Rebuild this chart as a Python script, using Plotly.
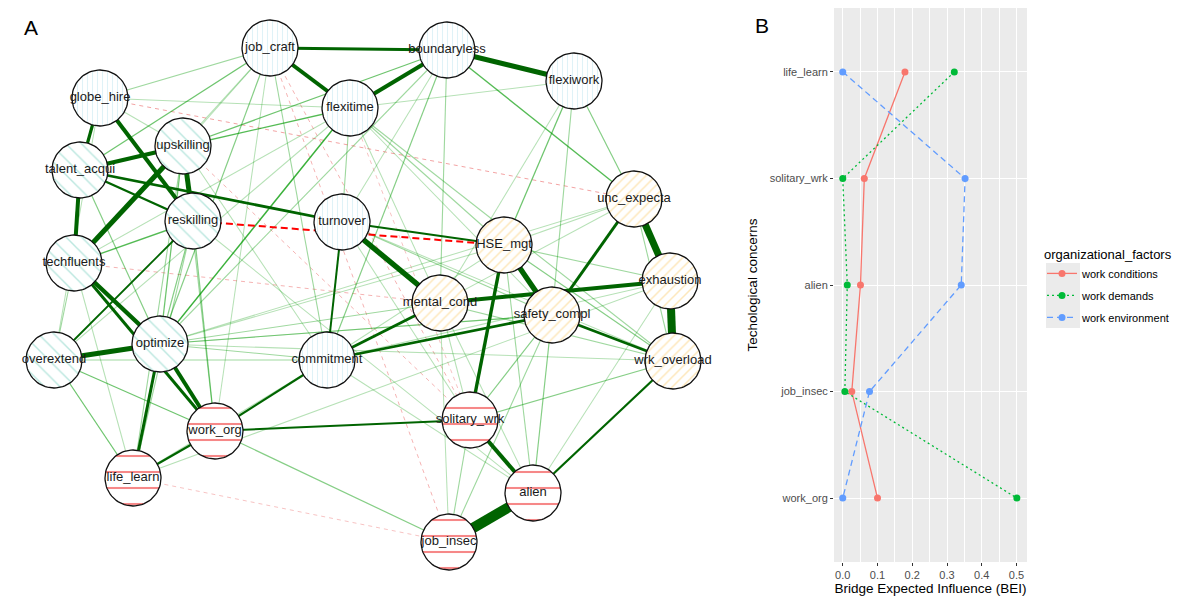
import numpy as np
import plotly.graph_objects as go

# ---------------- Panel A : network data ----------------
node_names = ["job_craft", "boundaryless", "flexiwork", "globe_hire", "flexitime",
              "upskilling", "talent_acqui", "reskilling", "turnover", "unc_expecta",
              "HSE_mgt", "techfluents", "exhaustion", "mental_cond", "safety_compl",
              "optimize", "overextend", "commitment", "wrk_overload", "work_org",
              "solitary_wrk", "life_learn", "alien", "job_insec"]
node_x = [270, 447, 574, 100, 350, 183, 80, 193, 342, 634, 504, 74, 670, 440, 552,
          160, 54, 327, 673, 215, 470, 133, 533, 449]
node_y = [48, 50, 81, 98, 108, 146, 170, 221, 222, 199, 245, 263, 281, 303, 315,
          344, 360, 360, 361, 431, 420, 478, 493, 542]
node_group = ["env", "env", "env", "env", "env", "skill", "skill", "skill", "env", "demand",
              "demand", "skill", "demand", "demand", "demand", "skill", "skill", "env",
              "demand", "tech", "tech", "tech", "tech", "tech"]

edge_from = ["job_craft", "job_craft", "boundaryless", "boundaryless", "globe_hire",
             "globe_hire", "talent_acqui", "talent_acqui", "upskilling", "upskilling",
             "talent_acqui", "talent_acqui", "reskilling", "turnover", "turnover",
             "HSE_mgt", "HSE_mgt", "unc_expecta", "exhaustion", "exhaustion",
             "unc_expecta", "commitment", "commitment", "safety_compl", "wrk_overload",
             "solitary_wrk", "alien", "work_org", "work_org", "optimize",
             "techfluents", "techfluents", "overextend", "optimize", "life_learn",
             "turnover", "techfluents", "overextend", "optimize",
             "job_craft", "job_craft", "job_craft", "upskilling", "upskilling",
             "boundaryless", "flexiwork", "flexiwork", "flexiwork", "flexiwork",
             "flexiwork", "boundaryless", "boundaryless", "boundaryless", "boundaryless",
             "job_craft", "job_craft", "job_craft", "job_craft", "flexitime",
             "flexitime", "flexitime", "flexitime", "flexitime", "flexitime",
             "flexitime", "globe_hire", "globe_hire", "globe_hire", "upskilling",
             "upskilling", "upskilling", "upskilling", "reskilling", "reskilling",
             "reskilling", "reskilling", "talent_acqui", "techfluents", "techfluents",
             "turnover", "turnover", "turnover", "mental_cond", "mental_cond",
             "mental_cond", "HSE_mgt", "HSE_mgt", "HSE_mgt", "HSE_mgt",
             "unc_expecta", "unc_expecta", "unc_expecta", "unc_expecta", "safety_compl",
             "safety_compl", "safety_compl", "safety_compl", "exhaustion", "exhaustion",
             "solitary_wrk", "solitary_wrk", "work_org", "overextend", "overextend",
             "overextend", "optimize", "optimize", "optimize", "optimize",
             "commitment", "commitment", "mental_cond", "HSE_mgt", "life_learn",
             "globe_hire", "techfluents", "life_learn", "job_craft", "upskilling",
             "job_craft", "flexitime"]
edge_to = ["boundaryless", "flexitime", "flexitime", "flexiwork", "reskilling",
           "talent_acqui", "upskilling", "techfluents", "reskilling", "techfluents",
           "reskilling", "turnover", "HSE_mgt", "HSE_mgt", "mental_cond",
           "safety_compl", "solitary_wrk", "exhaustion", "wrk_overload", "mental_cond",
           "safety_compl", "mental_cond", "safety_compl", "wrk_overload", "alien",
           "alien", "job_insec", "solitary_wrk", "commitment", "work_org",
           "optimize", "work_org", "optimize", "life_learn", "work_org",
           "commitment", "reskilling", "reskilling", "flexitime",
           "talent_acqui", "globe_hire", "upskilling", "flexitime", "boundaryless",
           "unc_expecta", "unc_expecta", "HSE_mgt", "safety_compl", "mental_cond",
           "flexitime", "mental_cond", "commitment", "optimize", "turnover",
           "commitment", "optimize", "work_org", "techfluents", "HSE_mgt",
           "safety_compl", "wrk_overload", "techfluents", "overextend", "mental_cond",
           "turnover", "flexitime", "upskilling", "overextend", "optimize",
           "work_org", "life_learn", "commitment", "optimize", "life_learn",
           "work_org", "alien", "optimize", "overextend", "life_learn",
           "safety_compl", "solitary_wrk", "wrk_overload", "solitary_wrk", "alien",
           "wrk_overload", "wrk_overload", "exhaustion", "commitment", "optimize",
           "wrk_overload", "mental_cond", "HSE_mgt", "optimize", "alien",
           "solitary_wrk", "job_insec", "optimize", "alien", "commitment",
           "wrk_overload", "job_insec", "job_insec", "work_org", "life_learn",
           "commitment", "commitment", "mental_cond", "safety_compl", "wrk_overload",
           "alien", "life_learn", "job_insec", "alien", "exhaustion",
           "unc_expecta", "mental_cond", "job_insec", "solitary_wrk", "solitary_wrk",
           "job_insec", "solitary_wrk"]
edge_weight = [0.14, 0.20, 0.20, 0.25, 0.20,
               0.16, 0.20, 0.20, 0.25, 0.25,
               0.12, 0.14, -0.10, 0.09, 0.27,
               0.27, 0.17, 0.35, 0.40, 0.20,
               0.15, 0.14, 0.14, 0.13, 0.11,
               0.20, 0.52, 0.10, 0.11, 0.20,
               0.22, 0.15, 0.25, 0.15, 0.11,
               0.10, 0.07, 0.09, 0.08,
               0.06, 0.04, 0.03, 0.07, 0.06,
               0.07, 0.05, 0.06, 0.04, 0.03,
               0.03, 0.04, 0.05, 0.04, 0.03,
               0.04, 0.05, 0.03, 0.03, 0.04,
               0.03, 0.04, 0.03, 0.03, 0.03,
               0.04, 0.03, 0.03, 0.03, 0.06,
               0.04, 0.04, 0.03, 0.05, 0.04,
               0.05, 0.03, 0.05, 0.04, 0.03,
               0.04, 0.03, 0.03, 0.03, 0.03,
               0.04, 0.05, 0.04, 0.03, 0.03,
               0.04, 0.03, 0.03, 0.03, 0.05,
               0.05, 0.04, 0.04, 0.03, 0.03,
               0.05, 0.04, 0.05, 0.06, 0.06,
               0.04, 0.04, 0.04, 0.03, 0.03,
               0.03, 0.03, 0.03, 0.04, 0.03,
               -0.04, -0.03, -0.02, -0.03, -0.03,
               -0.03, -0.02]

# ---------------- Panel B : bridge expected influence ----------------
concerns = ["life_learn", "solitary_wrk", "alien", "job_insec", "work_org"]
bei_conditions = [0.179, 0.062, 0.051, 0.026, 0.100]
bei_demands = [0.321, 0.000, 0.013, 0.006, 0.501]
bei_environment = [0.000, 0.352, 0.341, 0.077, 0.000]
factor_names = ["work conditions", "work demands", "work environment"]

W, H = 1200, 610
FONT = "Liberation Sans, Arial, Helvetica, sans-serif"
fig = go.Figure()

# ---- edges ----
pos = {n: (x, y) for n, x, y in zip(node_names, node_x, node_y)}
order = np.argsort(np.abs(edge_weight))
for i in order:
    a, b, w = edge_from[i], edge_to[i], edge_weight[i]
    aw = abs(w)
    if w >= 0:
        if aw >= 0.09:
            color, width = "rgb(0,100,0)", 20 * aw
        else:
            alpha = 0.08 + 0.8 * (aw / 0.09) ** 1.2
            color, width = f"rgba(0,153,0,{alpha:.2f})", 0.8 + aw * 8
        dash = "solid"
    else:
        if aw >= 0.08:
            color, width, dash = "rgb(255,0,0)", 2.0, "7px,4px"
        else:
            color, width, dash = f"rgba(230,60,60,{0.15 + aw * 8:.2f})", 1.0, "4px,4px"
    fig.add_trace(go.Scatter(x=[pos[a][0], pos[b][0]], y=[pos[a][1], pos[b][1]],
                             mode="lines", line=dict(color=color, width=width, dash=dash),
                             hoverinfo="skip", showlegend=False, xaxis="x", yaxis="y"))

# ---- nodes ----
patterns = {
    "env": dict(shape="|", fgcolor="#bfe6f0", bgcolor="white", size=5, solidity=0.22),
    "skill": dict(shape="\\", fgcolor="#78cfbf", bgcolor="white", size=11, solidity=0.13),
    "demand": dict(shape="/", fgcolor="#fcd078", bgcolor="white", size=7, solidity=0.22),
    "tech": dict(shape="-", fgcolor="#ee1111", bgcolor="white", size=16, solidity=0.13),
}
R = 28
theta = np.linspace(0, 2 * np.pi, 81)
for n, cx, cy, g in zip(node_names, node_x, node_y, node_group):
    fig.add_trace(go.Scatter(x=cx + R * np.cos(theta), y=cy + R * np.sin(theta),
                             mode="lines", fill="toself", fillcolor="white",
                             fillpattern=patterns[g],
                             line=dict(color="#111111", width=1.3),
                             hoverinfo="skip", showlegend=False, xaxis="x", yaxis="y"))
fig.add_trace(go.Scatter(x=node_x, y=node_y, mode="text", text=node_names,
                         textposition="middle center",
                         textfont=dict(family=FONT, size=13, color="#1a1a1a"),
                         hoverinfo="skip", showlegend=False, xaxis="x", yaxis="y"))

# ---- panel B lines ----
series = [(bei_conditions, "#F8766D", "solid"),
          (bei_demands, "#00BA38", "2px,3px"),
          (bei_environment, "#619CFF", "6px,4px")]
for name, (vals, col, dash) in zip(factor_names, series):
    fig.add_trace(go.Scatter(x=vals, y=concerns, mode="lines+markers", name=name,
                             legendgroup=name,
                             line=dict(color=col, width=1.3, dash=dash),
                             marker=dict(color=col, size=7),
                             xaxis="x2", yaxis="y2"))

px0, px1 = 834, 1027
py0, py1 = 8, 562
fig.update_layout(
    width=W, height=H, margin=dict(l=0, r=0, t=0, b=0),
    paper_bgcolor="white", plot_bgcolor="rgba(0,0,0,0)",
    font=dict(family=FONT, color="black"),
    xaxis=dict(domain=[0, 740 / W], range=[0, 740], visible=False, fixedrange=True),
    yaxis=dict(domain=[0, 1], range=[H, 0], visible=False, fixedrange=True),
    xaxis2=dict(domain=[px0 / W, px1 / W], range=[-0.0252, 0.5302], anchor="y2",
                tickmode="linear", tick0=0, dtick=0.1, tickformat=".1f",
                ticks="outside", ticklen=3, tickcolor="#333333", tickwidth=1,
                tickfont=dict(size=11, color="#4D4D4D"),
                showgrid=True, gridcolor="white", gridwidth=1.1, zeroline=False,
                showline=False,
                minor=dict(dtick=0.05, tick0=0, showgrid=True, gridcolor="white", gridwidth=0.5),
                title=dict(text="Bridge Expected Influence (BEI)", standoff=3,
                           font=dict(size=13.5, color="black"))),
    yaxis2=dict(domain=[1 - py1 / H, 1 - py0 / H], anchor="x2", type="category",
                categoryorder="array", categoryarray=concerns[::-1],
                range=[-0.6, 4.6], ticks="outside", ticklen=3, tickcolor="#333333",
                tickfont=dict(size=11, color="#4D4D4D"),
                showgrid=True, gridcolor="white", gridwidth=1.1, zeroline=False,
                title=dict(text="Techological concerns", standoff=8,
                           font=dict(size=13.5, color="black"))),
    legend=dict(x=1042 / W, y=1 - 242 / H, xanchor="left", yanchor="top",
                title=dict(text="organizational_factors", font=dict(size=13, color="black")),
                font=dict(size=11, color="black"), bgcolor="rgba(0,0,0,0)",
                tracegroupgap=3, itemwidth=30),
    shapes=[dict(type="rect", xref="x2 domain", yref="y2 domain", x0=0, x1=1, y0=0, y1=1,
                 fillcolor="#EBEBEB", line=dict(width=0), layer="below"),
            dict(type="rect", xref="paper", yref="paper", x0=1046 / W, x1=1080 / W,
                 y0=1 - 328 / H, y1=1 - 263 / H, fillcolor="#EBEBEB", line=dict(width=0),
                 layer="below")],
    annotations=[dict(text="A", x=31 / W, y=1 - 28 / H, xref="paper", yref="paper",
                      xanchor="center", yanchor="middle",
                      showarrow=False, font=dict(size=21, color="black")),
                 dict(text="B", x=762 / W, y=1 - 25 / H, xref="paper", yref="paper",
                      xanchor="center", yanchor="middle",
                      showarrow=False, font=dict(size=21, color="black"))],
)
fig.write_html("out.html", config={"displayModeBar": False},
               post_script="document.body.style.margin='0px';")
